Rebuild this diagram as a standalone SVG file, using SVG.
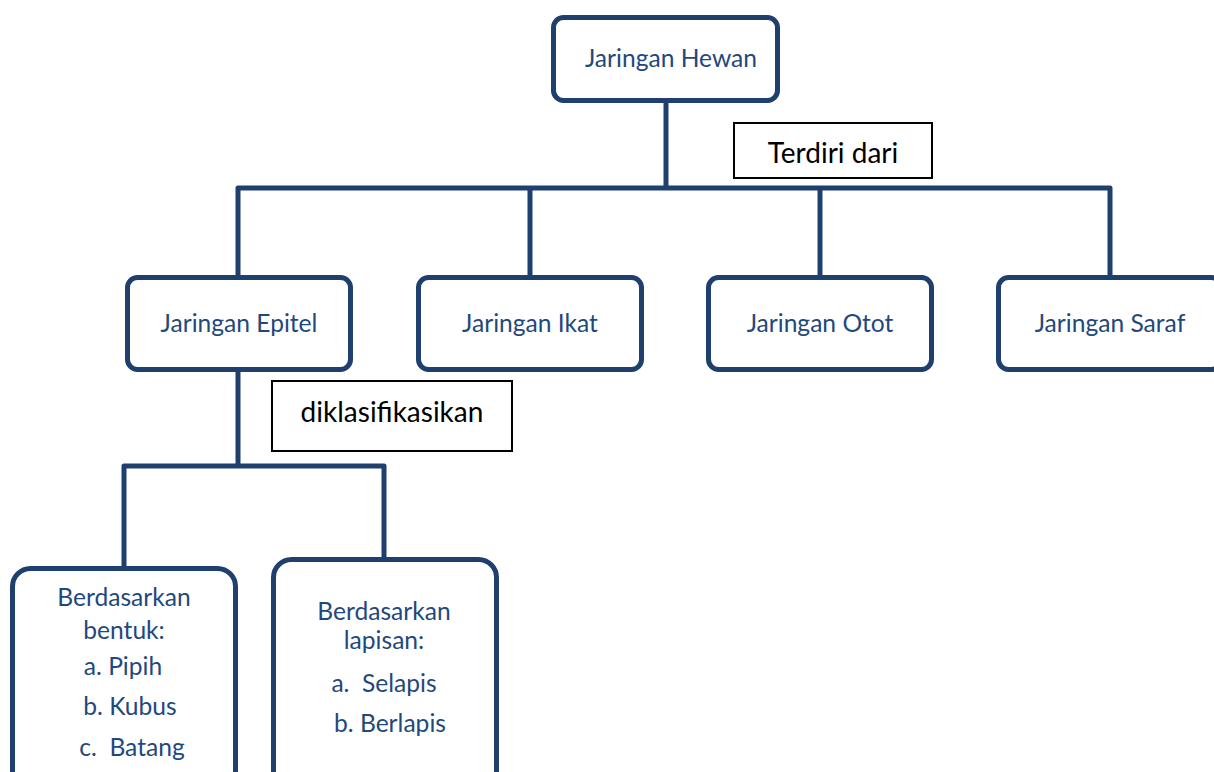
<svg xmlns="http://www.w3.org/2000/svg" width="1214" height="772" viewBox="0 0 1214 772">
  <style>
    .node { fill: #ffffff; stroke: #1f3f6e; stroke-width: 5; }
    .label { fill: #ffffff; stroke: #000000; stroke-width: 2; }
    .wire { fill: none; stroke: #1f3f6e; stroke-width: 5; stroke-linejoin: round; }
    .t { font-family: Lato, "Open Sans", sans-serif; font-size: 24.6px; fill: #1f497d; text-anchor: middle; white-space: pre; }
    .k { font-family: Lato, "Open Sans", sans-serif; font-size: 28px; fill: #000000; text-anchor: middle; }
  </style>
  <rect width="1214" height="772" fill="#ffffff"/>

  <!-- connectors -->
  <g id="connectors">
    <path class="wire" d="M666 101 V188"/>
    <path class="wire" d="M238 277 V188 H1110 V277"/>
    <path class="wire" d="M530 188 V277"/>
    <path class="wire" d="M820 188 V277"/>
    <path class="wire" d="M238 370 V466"/>
    <path class="wire" d="M124 568 V466 H384 V560"/>
  </g>

  <!-- root -->
  <g id="jaringan-hewan">
    <rect class="node" x="553.5" y="17.5" width="224" height="83" rx="10"/>
    <text class="t" x="671" y="67">Jaringan Hewan</text>
  </g>

  <g id="terdiri-dari">
    <rect class="label" x="734" y="123" width="198" height="55"/>
    <text class="k" x="833" y="163">Terdiri dari</text>
  </g>

  <!-- tissue types -->
  <g id="jaringan-epitel">
    <rect class="node" x="127.5" y="277.5" width="223" height="92" rx="10"/>
    <text class="t" x="239" y="332">Jaringan Epitel</text>
  </g>
  <g id="jaringan-ikat">
    <rect class="node" x="418.5" y="277.5" width="223" height="92" rx="10"/>
    <text class="t" x="530" y="332">Jaringan Ikat</text>
  </g>
  <g id="jaringan-otot">
    <rect class="node" x="708.5" y="277.5" width="223" height="92" rx="10"/>
    <text class="t" x="820" y="332">Jaringan Otot</text>
  </g>
  <g id="jaringan-saraf">
    <rect class="node" x="998.5" y="277.5" width="223" height="92" rx="10"/>
    <text class="t" x="1110" y="332">Jaringan Saraf</text>
  </g>

  <g id="diklasifikasikan">
    <rect class="label" x="272" y="381" width="240" height="70"/>
    <text class="k" x="392" y="422">diklasifikasikan</text>
  </g>

  <!-- epithelium classes -->
  <g id="berdasarkan-bentuk">
    <rect class="node" x="12.5" y="568.5" width="223" height="220" rx="18"/>
    <text class="t" x="124" y="606">Berdasarkan</text>
    <text class="t" x="124" y="639">bentuk:</text>
    <text class="t" x="123" y="675">a. Pipih</text>
    <text class="t" x="130" y="715">b. Kubus</text>
    <text class="t" x="132" y="756">c.  Batang</text>
  </g>
  <g id="berdasarkan-lapisan">
    <rect class="node" x="273.5" y="559.5" width="223" height="230" rx="18"/>
    <text class="t" x="384" y="620">Berdasarkan</text>
    <text class="t" x="384" y="649">lapisan:</text>
    <text class="t" x="384" y="692">a.  Selapis</text>
    <text class="t" x="390" y="732">b. Berlapis</text>
  </g>
</svg>
